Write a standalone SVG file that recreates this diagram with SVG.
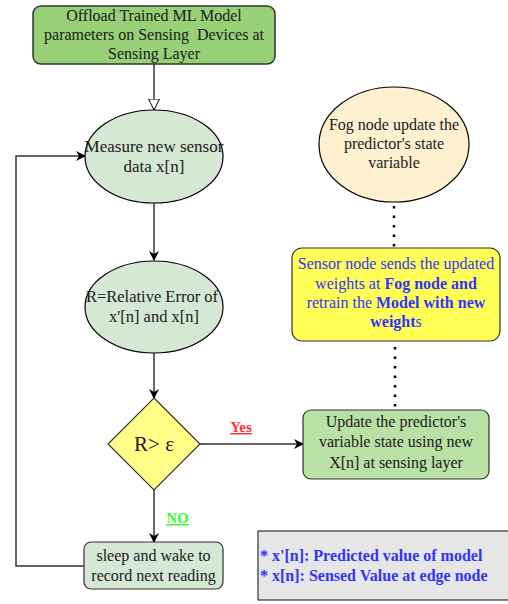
<svg xmlns="http://www.w3.org/2000/svg" width="508" height="604" viewBox="0 0 508 604" font-family="Liberation Serif, Times New Roman, serif">
<style>
.t{font-size:16px;fill:#1a1a1a;text-anchor:middle}
.b{fill:#3333ff}
.bb{font-weight:bold}
.ln{fill:none;stroke:#333;stroke-width:1.5}
.dot{fill:none;stroke:#000;stroke-width:2.5;stroke-dasharray:2.5 7}
</style>
<defs>
<marker id="arr" viewBox="0 0 10 10" refX="9" refY="5" markerWidth="10" markerHeight="10" markerUnits="userSpaceOnUse" orient="auto"><path d="M0,0 L10,5 L0,10 L3,5 Z" fill="#000"/></marker>
<marker id="open" viewBox="0 0 12 12" refX="11" refY="6" markerWidth="12" markerHeight="12" markerUnits="userSpaceOnUse" orient="auto"><path d="M0,0.5 L11,6 L0,11.5 Z" fill="#fff" stroke="#000" stroke-width="1"/></marker>
</defs>
<g id="connectors">
<path class="ln" d="M154,64 V110" marker-end="url(#open)"/>
<path class="ln" d="M154,203 V260" marker-end="url(#arr)"/>
<path class="ln" d="M154,353 V398" marker-end="url(#arr)"/>
<path class="ln" d="M200,444 H303" marker-end="url(#arr)"/>
<path class="ln" d="M154,490 V542" marker-end="url(#arr)"/>
<path class="ln" d="M84,566 H16 V156 H85" marker-end="url(#arr)"/>
<path class="dot" d="M394,206 V248"/>
<path class="dot" d="M395,347 V410"/>
<text x="241" y="432" class="t bb" style="fill:#ff3333;font-size:15px;text-decoration:underline">Yes</text>
<text x="177.5" y="523" class="t bb" style="fill:#33ff33;font-size:15px;text-decoration:underline">NO</text>
</g>
<g id="offload">
<rect x="33" y="6" width="242" height="58" rx="8" fill="#97d077" stroke="#333" stroke-width="1.5"/>
<text class="t" x="154" y="21">Offload Trained ML Model</text>
<text class="t" x="154" y="40" xml:space="preserve">parameters on Sensing  Devices at</text>
<text class="t" x="154" y="59">Sensing Layer</text>
</g>
<g id="measure">
<ellipse cx="154" cy="156.5" rx="69" ry="46.5" fill="#d5e8d4" stroke="#000" stroke-width="1.2"/>
<text class="t" x="154" y="152" style="font-size:17px">Measure new sensor</text>
<text class="t" x="154" y="172" style="font-size:17px">data x[n]</text>
</g>
<g id="relerr">
<ellipse cx="154" cy="307" rx="69" ry="46" fill="#d5e8d4" stroke="#000" stroke-width="1.2"/>
<text class="t" x="152" y="302" style="font-size:16.5px">R=Relative Error of</text>
<text class="t" x="154" y="322" style="font-size:16.5px">x'[n] and x[n]</text>
</g>
<g id="decision">
<path d="M154,398 L200,444 L154,490 L108,444 Z" fill="#ffff88" stroke="#333" stroke-width="1.2"/>
<text class="t" x="154" y="451" style="font-size:21px">R&gt; ε</text>
</g>
<g id="update">
<rect x="303" y="410" width="186" height="69" rx="8" fill="#b9e0a5" stroke="#333" stroke-width="1.2"/>
<text class="t" x="396" y="427">Update the predictor's</text>
<text class="t" x="396" y="447">variable state using new</text>
<text class="t" x="396" y="468">X[n] at sensing layer</text>
</g>
<g id="sensor">
<rect x="292" y="248" width="208" height="93" rx="10" fill="#ffff55" stroke="#333" stroke-width="1.2"/>
<text class="t b" x="396" y="269">Sensor node sends the updated</text>
<text class="t b" x="396" y="289">weights at <tspan class="bb">Fog node and</tspan></text>
<text class="t b" x="396" y="308">retrain the <tspan class="bb">Model with new</tspan></text>
<text class="t b" x="396" y="327"><tspan class="bb">weight</tspan>s</text>
</g>
<g id="fog">
<ellipse cx="394" cy="144.5" rx="75" ry="57.5" fill="#fff0cf" stroke="#000" stroke-width="1.2"/>
<text class="t" x="394" y="130">Fog node update the</text>
<text class="t" x="394" y="149">predictor's state</text>
<text class="t" x="394" y="168">variable</text>
</g>
<g id="sleep">
<rect x="84" y="542" width="139" height="47" rx="7" fill="#d5e8d4" stroke="#333" stroke-width="1.2"/>
<text class="t" x="153.5" y="561">sleep and wake to</text>
<text class="t" x="153.5" y="581">record next reading</text>
</g>
<g id="legend">
<rect x="258" y="531" width="252" height="69" fill="#e6e6e6" stroke="#333" stroke-width="1.2"/>
<text class="t b bb" x="260" y="561" style="text-anchor:start">* x'[n]: Predicted value of model</text>
<text class="t b bb" x="260" y="581" style="text-anchor:start">* x[n]: Sensed Value at edge node</text>
</g>
</svg>
